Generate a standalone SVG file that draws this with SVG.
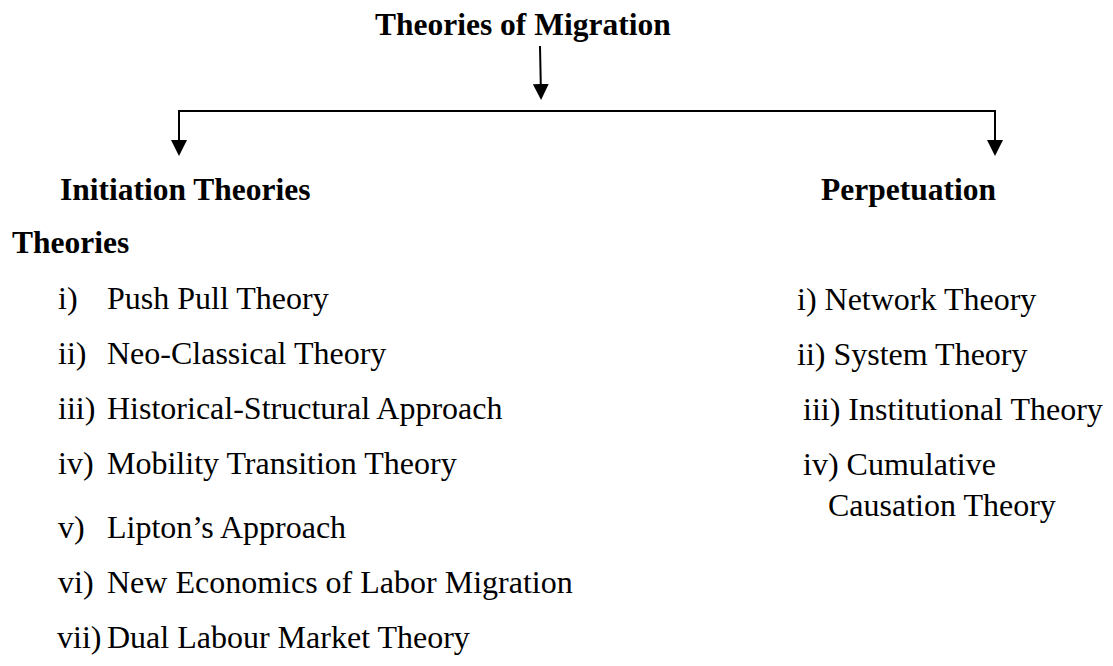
<svg xmlns="http://www.w3.org/2000/svg" width="1113" height="666" viewBox="0 0 1113 666">
<style>
text{font-family:"Liberation Serif","Times New Roman",serif;fill:#000;font-size:32px}
.b{font-weight:bold;font-size:31.5px}
.c{stroke:#000;stroke-width:2;fill:none}
</style>
<defs>
<marker id="ah" viewBox="0 0 16 16" refX="12" refY="8" markerWidth="16" markerHeight="16" markerUnits="userSpaceOnUse" orient="auto">
<path d="M0,0 L16,8 L0,16 z" fill="#000"/>
</marker>
</defs>
<rect width="1113" height="666" fill="#fff"/>
<g id="connectors">
<line class="c" x1="540" y1="46" x2="541" y2="96" marker-end="url(#ah)"/>
<line class="c" x1="178" y1="111" x2="996" y2="111"/>
<line class="c" x1="179" y1="110" x2="179" y2="152" marker-end="url(#ah)"/>
<line class="c" x1="995" y1="110" x2="995" y2="152" marker-end="url(#ah)"/>
</g>
<g id="title"><text class="b" x="375" y="35" font-size="32">Theories of Migration</text></g>
<g id="initiation">
<text class="b" x="60" y="200">Initiation Theories</text>
<text class="b" x="12" y="253">Theories</text>
</g>
<g id="perpetuation"><text class="b" x="821" y="200">Perpetuation</text></g>
<g id="initiation-list">
<text x="58" y="309">i)</text><text x="107" y="309">Push Pull Theory</text>
<text x="58" y="364">ii)</text><text x="107" y="364">Neo-Classical Theory</text>
<text x="58" y="419">iii)</text><text x="107" y="419">Historical-Structural Approach</text>
<text x="58" y="474">iv)</text><text x="107" y="474">Mobility Transition Theory</text>
<text x="58" y="538">v)</text><text x="107" y="538">Lipton’s Approach</text>
<text x="58" y="593">vi)</text><text x="107" y="593">New Economics of Labor Migration</text>
<text x="57" y="648">vii)</text><text x="107" y="648">Dual Labour Market Theory</text>
</g>
<g id="perpetuation-list">
<text x="797" y="310">i) Network Theory</text>
<text x="797" y="365">ii) System Theory</text>
<text x="803" y="420">iii) Institutional Theory</text>
<text x="803" y="475">iv) Cumulative</text>
<text x="828" y="516">Causation Theory</text>
</g>
</svg>
